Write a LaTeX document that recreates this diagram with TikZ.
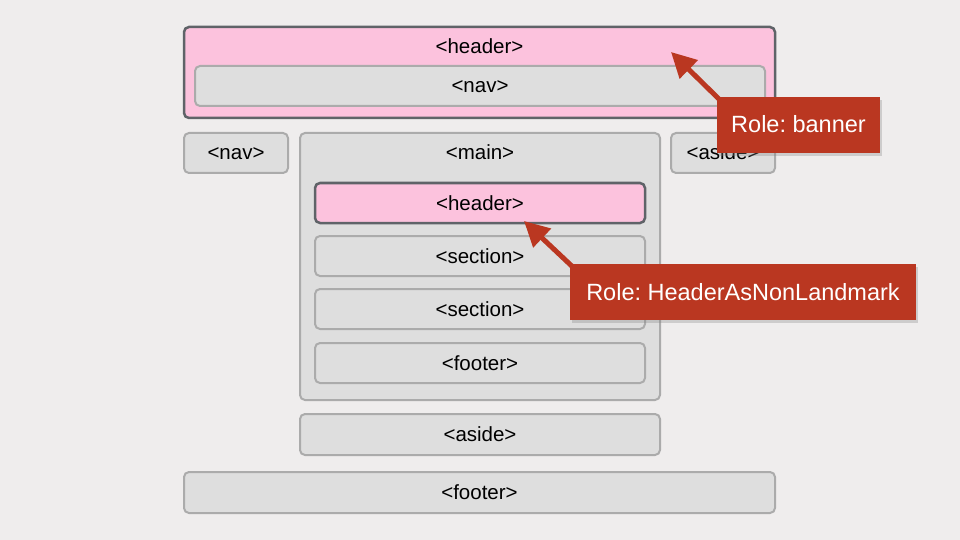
\documentclass[tikz,border=0pt]{standalone}
\usepackage{fontspec}
\setmainfont{Liberation Sans}
\usetikzlibrary{arrows.meta,shadows}
\definecolor{bgcol}{HTML}{EFEDED}
\definecolor{boxfill}{HTML}{DEDEDE}
\definecolor{boxline}{HTML}{ABABAB}
\definecolor{pinkfill}{HTML}{FCC2DD}
\definecolor{darkline}{HTML}{5F6368}
\definecolor{rolered}{HTML}{BA3721}
\frenchspacing
\begin{document}
\begin{tikzpicture}[x=1pt, y=-1pt,
   every node/.style={inner sep=0pt, outer sep=0pt, text height=14pt, text depth=0pt,
                      font=\fontsize{20.5}{24}\selectfont},
   box/.style={draw=boxline, fill=boxfill, line width=2pt, rounded corners=5pt},
   pinkbox/.style={box, draw=darkline, fill=pinkfill, line width=2.5pt},
   role/.style={fill=rolered, text=white, minimum height=56pt, text height=16pt,
                font=\fontsize{23.5}{28}\selectfont,
                drop shadow={opacity=0.3, shadow xshift=2pt, shadow yshift=-3pt}},
   roletip/.style={draw=rolered, line width=5pt, -{Triangle[length=25pt, width=25pt]}},
   toplabel/.style={label={[anchor=center, yshift=-20pt]north:#1}}]

\fill[bgcol] (0,0) rectangle (960,540);

% page header
\node[pinkbox, minimum width=591pt, minimum height=91pt, toplabel={<header>}] (hdr) at (479.5,72.5) {};
\node[box, minimum width=570pt, minimum height=40pt] (hdrnav) at (480,86) {<nav>};

% side columns
\node[box, minimum width=104pt, minimum height=40pt] (lnav) at (236,153) {<nav>};
\node[box, minimum width=104pt, minimum height=40pt] (raside) at (723,153) {<aside>};

% main and its children
\node[box, minimum width=360pt, minimum height=267pt, toplabel={<main>}] (main) at (480,266.5) {};
\node[pinkbox, minimum width=330pt, minimum height=40pt] (mhdr) at (480,203) {<header>};
\node[box, minimum width=330pt, minimum height=40pt] (sec1) at (480,256) {<section>};
\node[box, minimum width=330pt, minimum height=40pt] (sec2) at (480,309) {<section>};
\node[box, minimum width=330pt, minimum height=40pt] (mfoot) at (480,363) {<footer>};

% bottom
\node[box, minimum width=360pt, minimum height=41pt] (baside) at (480,434.5) {<aside>};
\node[box, minimum width=591pt, minimum height=41pt] (foot) at (479.5,492.5) {<footer>};

% roles
\coordinate (bannertip) at (671,52);
\coordinate (nonlmtip) at (524,221);
\node[role, minimum width=163pt] (banner) at (798.5,125) {Role: banner};
\node[role, minimum width=346pt] (nonlm) at (743,292) {Role: HeaderAsNonLandmark};
\draw[roletip] ([shift={(6pt,-6pt)}]banner.north west) -- (bannertip);
\draw[roletip] ([shift={(6pt,-6pt)}]nonlm.north west) -- (nonlmtip);

\end{tikzpicture}
\end{document}
